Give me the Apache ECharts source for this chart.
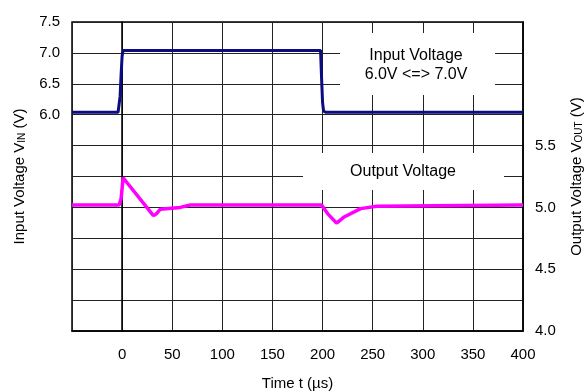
<!DOCTYPE html>
<html style="height: 100%">
<head>
    <meta charset="utf-8">
    <script src="https://cdn.jsdelivr.net/npm/echarts@6/dist/echarts.min.js"></script>
</head>
<body style="height: 100%; margin: 0; background: #fff">
    <div id="main" style="width:586px;height:392px;"></div>
    <script type="text/javascript">
    // time axis (us)
    var inputTime = [-50, -4, -3, -2, -1, 0, 1, 198, 199, 200, 201, 203, 400];
    var inputVolt = [6.04, 6.04, 6.06, 6.3, 6.65, 6.95, 7.04, 7.04, 6.6, 6.2, 6.06, 6.04, 6.04];

    var outputTime = [-50, -3, -1, 1, 31, 33, 35, 38, 58, 68, 199, 205, 214, 221, 238, 254, 400];
    var outputVolt = [5.02, 5.02, 5.07, 5.24, 4.935, 4.94, 4.955, 4.985, 5.0, 5.02, 5.02, 4.95, 4.873, 4.92, 4.99, 5.01, 5.02];

    var timeTicks = [0, 50, 100, 150, 200, 250, 300, 350, 400];
    var leftTicks = [6.0, 6.5, 7.0, 7.5];
    var rightTicks = [4.0, 4.5, 5.0, 5.5];

    function pair(xs, ys) {
        return xs.map(function (x, i) { return [x, ys[i]]; });
    }
    function inList(list, v) {
        return list.some(function (t) { return Math.abs(t - v) < 1e-6; });
    }

    var font = 'Liberation Sans, Arial, sans-serif';
    var myChart = echarts.init(document.getElementById('main'));

    var option = {
        animation: false,
        textStyle: { fontFamily: font },
        grid: {
            left: 72, right: 63, top: 22, bottom: 61,
            outerBoundsMode: 'none',
            containLabel: false,
            show: true, borderColor: '#000', borderWidth: 1.5
        },
        xAxis: {
            type: 'value',
            min: -50, max: 400, interval: 50,
            name: 'Time t (µs)',
            nameLocation: 'middle',
            nameGap: 45,
            nameTextStyle: { fontSize: 15, color: '#000', fontFamily: font },
            axisLine: { lineStyle: { color: '#000', width: 1.5 } },
            axisTick: { show: false },
            axisLabel: {
                fontSize: 15, color: '#000', margin: 16, fontFamily: font,
                formatter: function (v) { return inList(timeTicks, v) ? String(v) : ''; }
            },
            splitLine: { show: true, lineStyle: { color: '#222', width: 1 } }
        },
        yAxis: [
            {
                type: 'value',
                min: 2.5, max: 7.5, interval: 0.5,
                name: 'Input Voltage V{sub|IN} (V)',
                nameLocation: 'middle',
                nameRotate: 90,
                nameGap: 45,
                nameTextStyle: {
                    fontSize: 15, color: '#000', fontFamily: font,
                    rich: { sub: { fontSize: 10, verticalAlign: 'bottom', color: '#000', fontFamily: font } }
                },
                axisLine: { show: true, lineStyle: { color: '#000', width: 1.5 } },
                axisTick: { show: false },
                axisLabel: {
                    fontSize: 15, color: '#000', margin: 12, fontFamily: font,
                    formatter: function (v) { return inList(leftTicks, v) ? v.toFixed(1) : ''; }
                },
                splitLine: { show: true, lineStyle: { color: '#222', width: 1 } }
            },
            {
                type: 'value',
                min: 4.0, max: 6.5, interval: 0.25,
                position: 'right',
                name: 'Output Voltage V{sub|OUT} (V)',
                nameLocation: 'middle',
                nameRotate: 90,
                nameGap: 46,
                nameTextStyle: {
                    fontSize: 15, color: '#000', fontFamily: font,
                    rich: { sub: { fontSize: 10, verticalAlign: 'bottom', color: '#000', fontFamily: font } }
                },
                axisLine: { show: true, lineStyle: { color: '#000', width: 1.5 } },
                axisTick: { show: false },
                axisLabel: {
                    fontSize: 15, color: '#000', margin: 12, fontFamily: font,
                    formatter: function (v) { return inList(rightTicks, v) ? v.toFixed(1) : ''; }
                },
                splitLine: { show: false }
            }
        ],
        graphic: [
            {
                type: 'rect', z: 50,
                shape: { x: 340, y: 33, width: 155, height: 62 },
                style: { fill: '#fff' }
            },
            {
                type: 'text', z: 51,
                style: {
                    x: 416, y: 65, text: 'Input Voltage\n6.0V <=> 7.0V',
                    align: 'center', verticalAlign: 'middle', lineHeight: 19,
                    fontSize: 16, fontFamily: font, fill: '#000'
                }
            },
            {
                type: 'rect', z: 50,
                shape: { x: 303, y: 153, width: 201, height: 37 },
                style: { fill: '#fff' }
            },
            {
                type: 'text', z: 51,
                style: {
                    x: 403, y: 172, text: 'Output Voltage',
                    align: 'center', verticalAlign: 'middle',
                    fontSize: 16, fontFamily: font, fill: '#000'
                }
            }
        ],
        series: [
            {
                name: 'Input Voltage',
                type: 'line',
                yAxisIndex: 0,
                showSymbol: false,
                z: 60,
                lineStyle: { color: '#0b0b82', width: 3 },
                data: pair(inputTime, inputVolt)
            },
            {
                name: 'Output Voltage',
                type: 'line',
                yAxisIndex: 1,
                showSymbol: false,
                z: 60,
                lineStyle: { color: '#ff00ff', width: 3.5 },
                data: pair(outputTime, outputVolt)
            }
        ]
    };
    myChart.setOption(option);
    </script>
</body>
</html>
